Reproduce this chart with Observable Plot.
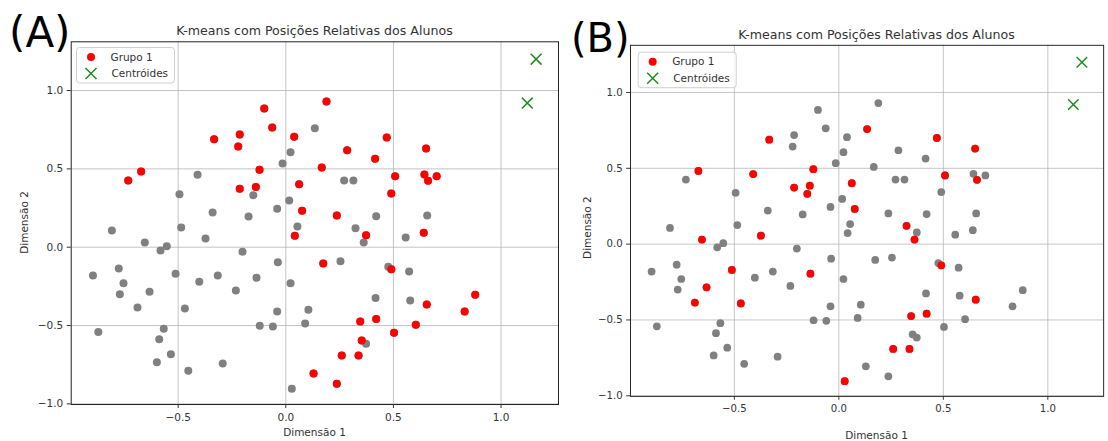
<!DOCTYPE html>
<html><head><meta charset="utf-8">
<script src="https://cdn.jsdelivr.net/npm/d3@7"></script>
<script src="https://cdn.jsdelivr.net/npm/@observablehq/plot@0.6"></script>
<style>
body{margin:0;background:#fff;}
#wrap{position:relative;width:1108px;height:441px;overflow:hidden;font-family:"DejaVu Sans",sans-serif;}
.panel{position:absolute;top:0;}
#overlay{position:absolute;left:0;top:0;pointer-events:none;}
</style></head><body><div id="wrap"><div id="pA" class="panel" style="left:0px"></div><div id="pB" class="panel" style="left:560px"></div></div>
<script>
// Dimensão 1 / Dimensão 2 of each student (same positions in both panels)
const dimX = [-0.732,-0.672,-0.410,-0.333,-0.214,-0.221,-0.100,-0.063,-0.122,-0.214,
  -0.139,-0.151,-0.494,-0.340,-0.173,-0.040,-0.015,0.189,0.135,0.039,
  0.022,0.285,0.167,0.469,0.415,0.652,0.508,0.644,0.661,0.701,
  0.271,0.314,0.062,0.490,0.016,0.076,0.237,0.420,0.657,-0.808,
  -0.486,-0.373,-0.655,-0.582,-0.553,-0.201,-0.037,-0.896,-0.776,-0.754,
  -0.771,-0.633,-0.689,-0.512,-0.402,-0.316,-0.232,-0.136,-0.469,-0.040,
  -0.871,-0.567,-0.588,-0.121,-0.060,-0.534,-0.599,-0.293,-0.453,0.054,
  0.324,0.042,0.373,0.641,0.557,0.362,0.174,0.254,0.476,0.490,
  0.573,0.022,0.417,0.578,0.655,0.880,0.831,0.105,0.346,0.420,
  0.090,0.604,0.503,0.353,0.373,0.260,0.338,0.129,0.237,0.028];
const dimY = [0.426,0.483,0.462,0.689,0.719,0.643,0.885,0.764,0.494,0.373,
  0.385,0.332,0.338,0.221,0.196,0.245,0.534,0.930,0.759,0.705,
  0.606,0.619,0.509,0.700,0.564,0.630,0.453,0.464,0.424,0.453,
  0.426,0.426,0.402,0.343,0.298,0.232,0.202,0.198,0.202,0.107,
  0.126,0.056,0.030,-0.021,0.006,-0.029,-0.096,-0.181,-0.136,-0.230,
  -0.300,-0.285,-0.385,-0.170,-0.221,-0.181,-0.276,-0.195,-0.391,-0.410,
  -0.542,-0.521,-0.587,-0.502,-0.506,-0.683,-0.734,-0.742,-0.789,0.132,
  0.121,0.073,0.077,0.092,0.062,0.030,-0.104,-0.089,-0.125,-0.140,
  -0.155,-0.230,-0.325,-0.340,-0.366,-0.304,-0.410,-0.399,-0.474,-0.459,
  -0.487,-0.495,-0.546,-0.595,-0.616,-0.691,-0.691,-0.806,-0.872,-0.904];
// membership in "Grupo 1" (1) for panel A and panel B
const grupoA = [1,1,0,1,1,1,1,1,1,1, 1,0,0,0,0,0,0,1,0,1, 0,1,1,1,1,1,1,1,1,1,
  0,0,1,1,0,1,1,0,0,0, 0,0,0,0,0,0,0,0,0,0, 0,0,0,0,0,0,0,0,0,0,
  0,0,0,0,0,0,0,0,0,0, 0,1,1,1,0,0,1,0,0,1, 0,0,0,0,1,1,1,0,1,1,
  0,1,1,1,0,1,1,1,1,0];
const grupoB = [0,1,1,1,0,0,0,0,1,1, 1,1,0,0,0,0,0,0,1,0, 0,0,0,1,0,1,1,0,1,0,
  0,0,1,0,0,1,0,0,0,0, 0,1,1,0,0,0,0,0,0,0, 0,1,1,1,0,0,0,1,1,0,
  0,0,0,0,0,0,0,0,0,0, 1,0,0,0,0,1,0,0,0,1, 0,0,0,0,1,0,0,0,1,1,
  0,0,0,0,0,1,1,0,0,1];
const centroX = [1.163, 1.122];
const centroY = [1.200, 0.920];
const xTicks = [-0.5, 0.0, 0.5, 1.0];
const yTicks = [-1.0, -0.5, 0.0, 0.5, 1.0];
const titulo = "K-means com Posições Relativas dos Alunos";
const rotuloX = "Dimensão 1";
const rotuloY = "Dimensão 2";
const legendaGrupo = "Grupo 1";
const legendaCentro = "Centróides";
const paineis = ["(A)", "(B)"];

const fmt = d3.format(".1f");
const centroids = centroX.map((x, i) => ({x, y: centroY[i]}));

function makePanel(grupo, o) {
  const pts = dimX.map((x, i) => ({x, y: dimY[i], g: grupo[i]}));
  return Plot.plot({
    width: o.width, height: o.height,
    marginLeft: o.ml, marginRight: o.mr, marginTop: o.mt, marginBottom: o.mb,
    x: {domain: [-0.997, 1.267]},
    y: {domain: [-1.004, 1.311]},
    style: {fontFamily: "DejaVu Sans", fontSize: "10.5px", color: "#333", background: "transparent", overflow: "visible"},
    marks: [
      Plot.gridX(xTicks, {stroke: "#b0b0b0", strokeOpacity: 0.75, strokeWidth: 1}),
      Plot.gridY(yTicks, {stroke: "#b0b0b0", strokeOpacity: 0.75, strokeWidth: 1}),
      Plot.dot(pts, {x: "x", y: "y", r: 4, fill: "#808080"}),
      Plot.dot(pts.filter(d => d.g === 1), {x: "x", y: "y", r: 4, fill: "#ff0000"}),
      Plot.dot(centroids, {x: "x", y: "y", symbol: "times", r: 5, stroke: "#1f8a1f", strokeWidth: 1.5, fill: "none"}),
      Plot.frame({stroke: "#222", strokeWidth: 1}),
      Plot.axisX(xTicks, {tickFormat: fmt, tickSize: 4, tickPadding: 5, label: null}),
      Plot.axisY(yTicks, {tickFormat: fmt, tickSize: 4, tickPadding: 4, label: null})
    ]
  });
}

document.getElementById("pA").appendChild(makePanel(grupoA, {width: 560, height: 441, ml: 70.7, mr: 2, mt: 41.3, mb: 37}));
document.getElementById("pB").appendChild(makePanel(grupoB, {width: 566, height: 446, ml: 72.3, mr: 5, mt: 46.3, mb: 37.1}));

// overlay texts and legends
const ov = d3.select("#wrap").append("svg").attr("id", "overlay").attr("width", 1108).attr("height", 441)
  .style("font-family", "DejaVu Sans");
const layout = [
  {lab: paineis[0], lx: 9, ly: 47, ls: 42, tx: 314.5, ty: 34.5, xl: 436, yx: 28, yy: 222.5, lgx: 76, lgy: 47},
  {lab: paineis[1], lx: 571, ly: 52, ls: 40, tx: 876.5, ty: 38.5, xl: 438.5, yx: 591, yy: 227.6, lgx: 637.7, lgy: 51.7}
];
for (const p of layout) {
  ov.append("text").attr("x", p.lx).attr("y", p.ly).attr("font-size", p.ls).attr("fill", "#000").text(p.lab);
  ov.append("text").attr("x", p.tx).attr("y", p.ty).attr("font-size", 12.6).attr("fill", "#333").attr("text-anchor", "middle").text(titulo);
  ov.append("text").attr("x", p.tx).attr("y", p.xl).attr("font-size", 10.5).attr("fill", "#333").attr("text-anchor", "middle").text(rotuloX);
  ov.append("text").attr("transform", `translate(${p.yx},${p.yy}) rotate(-90)`).attr("font-size", 10.5).attr("fill", "#333").attr("text-anchor", "middle").text(rotuloY);
  const g = ov.append("g").attr("transform", `translate(${p.lgx},${p.lgy})`);
  g.append("rect").attr("x", 0.5).attr("y", 0.5).attr("width", 98).attr("height", 35.5).attr("rx", 3)
    .attr("fill", "rgba(255,255,255,0.8)").attr("stroke", "#d0d0d0");
  g.append("circle").attr("cx", 15).attr("cy", 10).attr("r", 4).attr("fill", "#ff0000");
  g.append("text").attr("x", 34.5).attr("y", 13.8).attr("font-size", 10.5).attr("fill", "#333").text(legendaGrupo);
  g.append("path").attr("d", "M9.5,21 L20.5,32 M9.5,32 L20.5,21").attr("stroke", "#1f8a1f").attr("stroke-width", 1.5);
  g.append("text").attr("x", 35.5).attr("y", 30).attr("font-size", 10.5).attr("fill", "#333").text(legendaCentro);
}
</script></body></html>
